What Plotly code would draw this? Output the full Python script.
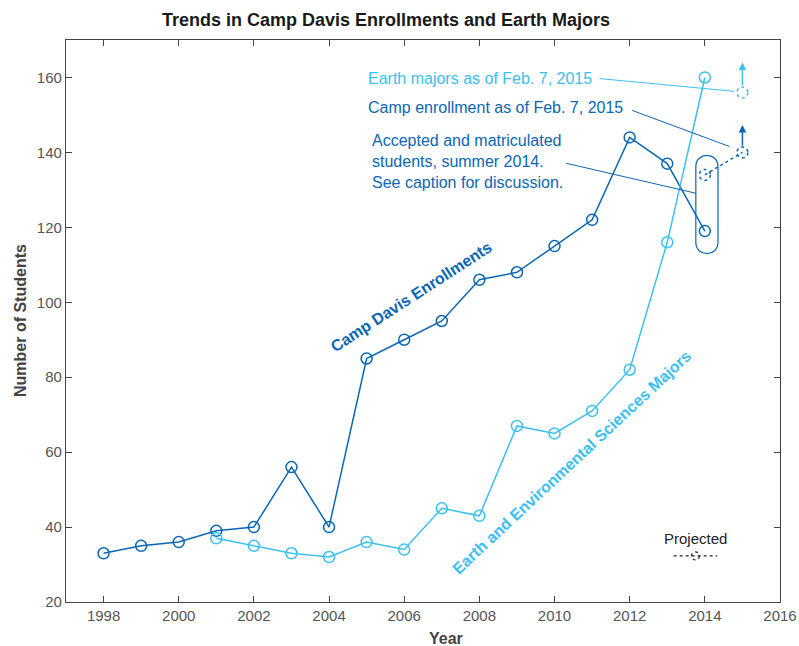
import plotly.graph_objects as go

# ---- data ----
camp_years = [1998, 1999, 2000, 2001, 2002, 2003, 2004, 2005, 2006, 2007, 2008, 2009, 2010, 2011, 2012, 2013, 2014]
camp_vals = [33, 35, 36, 39, 40, 56, 40, 85, 90, 95, 106, 108, 115, 122, 144, 137, 119]
earth_years = [2001, 2002, 2003, 2004, 2005, 2006, 2007, 2008, 2009, 2010, 2011, 2012, 2013, 2014]
earth_vals = [37, 35, 33, 32, 36, 34, 45, 43, 67, 65, 71, 82, 116, 160]
camp_proj_years = [2014, 2015]
camp_proj_vals = [134, 140]
earth_proj_years = [2015]
earth_proj_vals = [156]
x_ticks = [1998, 2000, 2002, 2004, 2006, 2008, 2010, 2012, 2014, 2016]
y_ticks = [20, 40, 60, 80, 100, 120, 140, 160]

DARK = "#0b67b3"
LIGHT = "#3cc0ef"
FONT = "Liberation Sans"
AXC = "#444444"

fig = go.Figure()
fig.add_trace(go.Scatter(x=camp_years, y=camp_vals, mode="lines+markers",
                         line=dict(color=DARK, width=1.5),
                         marker=dict(symbol="circle-open", size=11, color=DARK, line=dict(width=1.5)),
                         showlegend=False))
fig.add_trace(go.Scatter(x=earth_years, y=earth_vals, mode="lines+markers",
                         line=dict(color=LIGHT, width=1.5),
                         marker=dict(symbol="circle-open", size=11, color=LIGHT, line=dict(width=1.5)),
                         showlegend=False))
fig.add_trace(go.Scatter(x=camp_proj_years, y=camp_proj_vals, mode="lines",
                         line=dict(color=DARK, width=1.5, dash="dot"), showlegend=False))

shapes = []
# dotted projected circles
for xs, ys, col in [(camp_proj_years, camp_proj_vals, DARK), (earth_proj_years, earth_proj_vals, LIGHT)]:
    for xv, yv in zip(xs, ys):
        shapes.append(dict(type="circle", xref="x", yref="y", xsizemode="pixel", ysizemode="pixel",
                           xanchor=xv, yanchor=yv, x0=-5.5, x1=5.5, y0=-5.5, y1=5.5,
                           line=dict(color=col, width=1.5, dash="dot")))

# rounded pill around 2014 points
px0, px1 = 2013.76, 2014.35
py_top, py_bot = 136.2, 116.0
ry = 3.0
pill = (f"M {px0},{py_bot} L {px0},{py_top} "
        f"C {px0},{py_top + ry*1.33} {px1},{py_top + ry*1.33} {px1},{py_top} "
        f"L {px1},{py_bot} "
        f"C {px1},{py_bot - ry*1.33} {px0},{py_bot - ry*1.33} {px0},{py_bot} Z")
shapes.append(dict(type="path", path=pill, xref="x", yref="y", line=dict(color=DARK, width=1.2)))

# leader lines
leaders = [
    ((2011.2, 159.7), (2014.78, 156.3), LIGHT),
    ((2012.07, 151.2), (2014.65, 141.6), DARK),
    ((2010.31, 137.1), (2013.76, 129.1), DARK),
]
for (x0, y0), (x1, y1), col in leaders:
    shapes.append(dict(type="line", xref="x", yref="y", x0=x0, y0=y0, x1=x1, y1=y1,
                       line=dict(color=col, width=1)))

# projected legend
shapes.append(dict(type="line", xref="x", yref="y", x0=2013.17, x1=2014.33, y0=32.3, y1=32.3,
                   line=dict(color="#222", width=1.2, dash="dot")))
shapes.append(dict(type="circle", xref="x", yref="y", xsizemode="pixel", ysizemode="pixel",
                   xanchor=2013.75, yanchor=32.3, x0=-4, x1=4, y0=-4, y1=4,
                   line=dict(color="#222", width=1.2, dash="dot")))

annotations = [
    dict(x=2015, y=164, ax=2015, ay=157.6, xref="x", yref="y", axref="x", ayref="y",
         showarrow=True, arrowhead=2, arrowsize=1, arrowwidth=1.5, arrowcolor=LIGHT, text=""),
    dict(x=2015, y=147.3, ax=2015, ay=141.4, xref="x", yref="y", axref="x", ayref="y",
         showarrow=True, arrowhead=2, arrowsize=1, arrowwidth=1.5, arrowcolor=DARK, text=""),
    dict(x=2011.06, y=159.8, xref="x", yref="y", xanchor="right", yanchor="middle", showarrow=False,
         text="Earth majors as of Feb. 7, 2015", font=dict(family=FONT, size=16, color=LIGHT)),
    dict(x=2011.88, y=152.0, xref="x", yref="y", xanchor="right", yanchor="middle", showarrow=False,
         text="Camp enrollment as of Feb. 7, 2015", font=dict(family=FONT, size=16, color=DARK)),
    dict(x=2005.1, y=137.6, xref="x", yref="y", xanchor="left", yanchor="middle", showarrow=False, align="left",
         text="Accepted and matriculated<br>students, summer 2014.<br>See caption for discussion.",
         font=dict(family=FONT, size=16, color=DARK)),
    dict(x=2006.2, y=101.5, xref="x", yref="y", showarrow=False, textangle=-33,
         text="<b>Camp Davis Enrollments</b>", font=dict(family=FONT, size=16, color=DARK)),
    dict(x=2010.45, y=57.3, xref="x", yref="y", showarrow=False, textangle=-43,
         text="<b>Earth and Environmental Sciences Majors</b>", font=dict(family=FONT, size=16, color=LIGHT)),
    dict(x=2013.75, y=37.0, xref="x", yref="y", showarrow=False,
         text="Projected", font=dict(family=FONT, size=15, color="#222")),
]
annotations.append(dict(x=(445.5 - 66) / 714, y=-(638 - 602) / 562, xref="paper", yref="paper",
                        xanchor="center", yanchor="middle", showarrow=False,
                        text="<b>Year</b>", font=dict(family=FONT, size=16, color=AXC)))
annotations.append(dict(x=-(66 - 20) / 714, y=0.5, xref="paper", yref="paper", textangle=-90,
                        xanchor="center", yanchor="middle", showarrow=False,
                        text="<b>Number of Students</b>", font=dict(family=FONT, size=16, color=AXC)))
annotations.append(dict(x=(385.5 - 66) / 714, y=1 + (40 - 20) / 562, xref="paper", yref="paper",
                        xanchor="center", yanchor="middle", showarrow=False,
                        text="<b>Trends in Camp Davis Enrollments and Earth Majors</b>",
                        font=dict(family=FONT, size=18, color="#1a1a1a")))

axis_common = dict(showline=True, linecolor=AXC, linewidth=1.2, mirror="ticks", ticks="inside",
                   ticklen=6, tickcolor=AXC, showgrid=False, zeroline=False, automargin=False,
                   tickfont=dict(family=FONT, size=15, color="#555555"))

fig.update_layout(
    width=799, height=646,
    margin=dict(l=66, r=19, t=40, b=44, autoexpand=False),
    paper_bgcolor="white", plot_bgcolor="white",
    xaxis=dict(range=[1997, 2016], tickvals=x_ticks, **axis_common),
    yaxis=dict(range=[20, 170], tickvals=y_ticks, **axis_common),
    shapes=shapes, annotations=annotations,
)
fig.write_html("out.html", config={"displayModeBar": False},
               post_script="document.body.style.margin='0px';document.body.style.overflow='hidden';")
